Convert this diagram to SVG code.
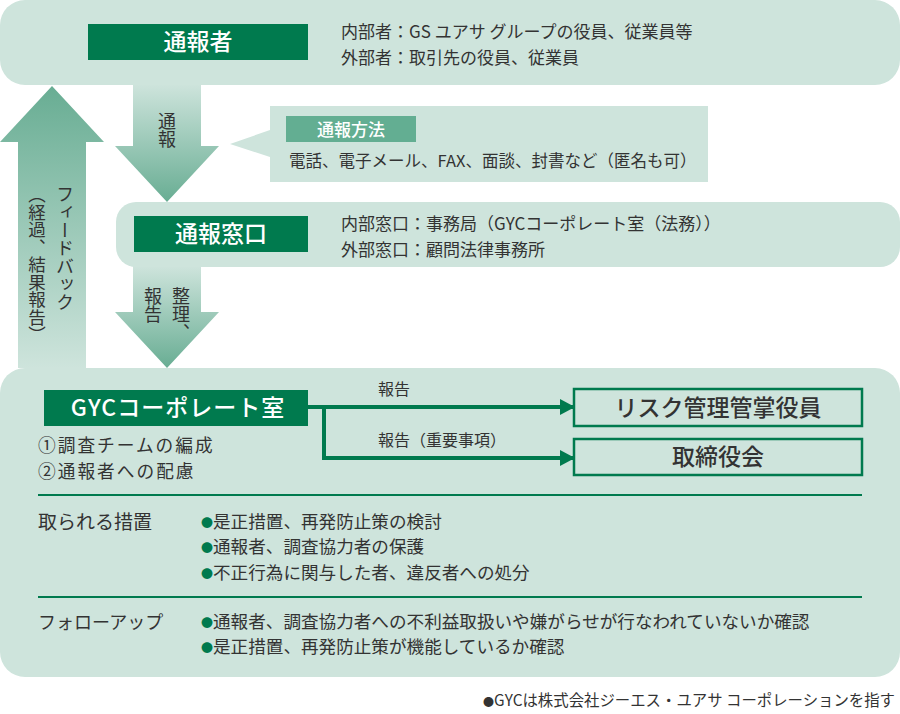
<svg xmlns="http://www.w3.org/2000/svg" width="900" height="714" viewBox="0 0 900 714">
<style>
text{font-family:"Noto Sans CJK JP","Noto Sans",sans-serif;fill:#333}
.pale{fill:#cee4dc}
.title{fill:#007a4e}
.tt{fill:#fff;font-size:23px;font-weight:500;text-anchor:middle}
.info{font-size:17px}
.vt{writing-mode:vertical-rl;font-size:18px}
.lbl{font-size:16px}
.body{font-size:17.6px}
.sub{font-size:17.7px;letter-spacing:2px}
.bul{fill:#007a4e;font-size:12px}
.sep{stroke:#007a4e;stroke-width:2}
.conn{fill:none;stroke:#007a4e;stroke-width:4}
.obox{fill:#cee4dc;stroke:#007a4e;stroke-width:2.5}
.ot{font-size:23px;font-weight:500;text-anchor:middle}
</style>
<defs>
<linearGradient id="gDown" x1="0" y1="0" x2="0" y2="1">
<stop offset="0" stop-color="#cee4dc"/>
<stop offset="1" stop-color="#68ad93"/>
</linearGradient>
<linearGradient id="gUp" x1="0" y1="0" x2="0" y2="1">
<stop offset="0" stop-color="#68ad93"/>
<stop offset="1" stop-color="#cee4dc"/>
</linearGradient>
<marker id="ah" markerWidth="15" markerHeight="16" refX="14" refY="8" orient="auto" markerUnits="userSpaceOnUse">
<path d="M0,0 L15,8 L0,16 z" fill="#007a4e"/>
</marker>
</defs>

<!-- big arrows -->
<g id="feedback-arrow">
<polygon points="18,368 18,142 0,142 52,86 104,142 86,142 86,368" fill="url(#gUp)"/>
<text class="vt" x="65" y="185">フィードバック</text>
<text class="vt" x="37" y="186" style="font-size:17.5px">（経過、結果報告）</text>
</g>
<g id="report-arrow">
<polygon points="133,84 201,84 201,146 219,146 167,202 115,146 133,146" fill="url(#gDown)"/>
<text class="vt" x="167" y="112">通報</text>
</g>
<g id="organize-arrow">
<polygon points="133,266 201,266 201,312 219,312 167,368 115,312 133,312" fill="url(#gDown)"/>
<text class="vt" x="181" y="287">整理、</text>
<text class="vt" x="153" y="287">報告</text>
</g>

<g id="reporter">
<rect x="0" y="0" width="900" height="85" rx="25" class="pale"/>
<rect x="88" y="24" width="220" height="36" class="title"/>
<text class="tt" x="198" y="50">通報者</text>
<text class="info" x="341" y="38">内部者：GS ユアサ グループの役員、従業員等</text>
<text class="info" x="341" y="64">外部者：取引先の役員、従業員</text>
</g>

<g id="method">
<polygon points="270,106 708,106 708,182 270,182 270,157 230,144 270,130" class="pale"/>
<rect x="286" y="116" width="130" height="26" fill="#63ae92"/>
<text x="351" y="136" style="fill:#fff;font-size:17px;font-weight:500;text-anchor:middle">通報方法</text>
<text x="289" y="167" style="font-size:16.5px">電話、電子メール、FAX、面談、封書など（匿名も可）</text>
</g>

<g id="window">
<rect x="116" y="202" width="784" height="65" rx="20" class="pale"/>
<rect x="134" y="216" width="174" height="36" class="title"/>
<text class="tt" x="221" y="242">通報窓口</text>
<text class="info" x="341" y="230">内部窓口：事務局（GYCコーポレート室（法務））</text>
<text class="info" x="341" y="256">外部窓口：顧問法律事務所</text>
</g>

<g id="gyc-area">
<rect x="0" y="368" width="900" height="309" rx="25" class="pale"/>
</g>

<g id="gyc">
<rect x="44" y="390" width="264" height="36" class="title"/>
<text class="tt" x="178" y="416" style="letter-spacing:1px">GYCコーポレート室</text>
<text class="sub" x="38" y="452">①調査チームの編成</text>
<text class="sub" x="38" y="478">②通報者への配慮</text>
</g>

<g id="risk-officer">
<rect x="574" y="389" width="288" height="37" class="obox"/>
<text class="ot" x="718" y="416">リスク管理管掌役員</text>
</g>
<g id="board">
<rect x="574" y="439" width="288" height="36" class="obox"/>
<text class="ot" x="718" y="465">取締役会</text>
</g>

<g id="connectors">
<path class="conn" d="M308,407 H574" marker-end="url(#ah)"/>
<path class="conn" d="M324,407 V458 H574" marker-end="url(#ah)"/>
<text class="lbl" x="378" y="395">報告</text>
<text class="lbl" x="378" y="446">報告（重要事項）</text>
</g>

<g id="measures">
<line class="sep" x1="38" y1="495" x2="862" y2="495"/>
<text x="38" y="529" style="font-size:19px">取られる措置</text>
<text class="body" x="201" y="528"><tspan class="bul">●</tspan>是正措置、再発防止策の検討</text>
<text class="body" x="201" y="553"><tspan class="bul">●</tspan>通報者、調査協力者の保護</text>
<text class="body" x="201" y="579"><tspan class="bul">●</tspan>不正行為に関与した者、違反者への処分</text>
</g>

<g id="followup">
<line class="sep" x1="38" y1="597" x2="862" y2="597"/>
<text x="38" y="629" style="font-size:18px">フォローアップ</text>
<text class="body" x="201" y="628"><tspan class="bul">●</tspan>通報者、調査協力者への不利益取扱いや嫌がらせが行なわれていないか確認</text>
<text class="body" x="201" y="653"><tspan class="bul">●</tspan>是正措置、再発防止策が機能しているか確認</text>
</g>

<text x="895" y="706" style="font-size:15.4px;text-anchor:end"><tspan style="font-size:11px">●</tspan>GYCは株式会社ジーエス・ユアサ コーポレーションを指す</text>
</svg>
